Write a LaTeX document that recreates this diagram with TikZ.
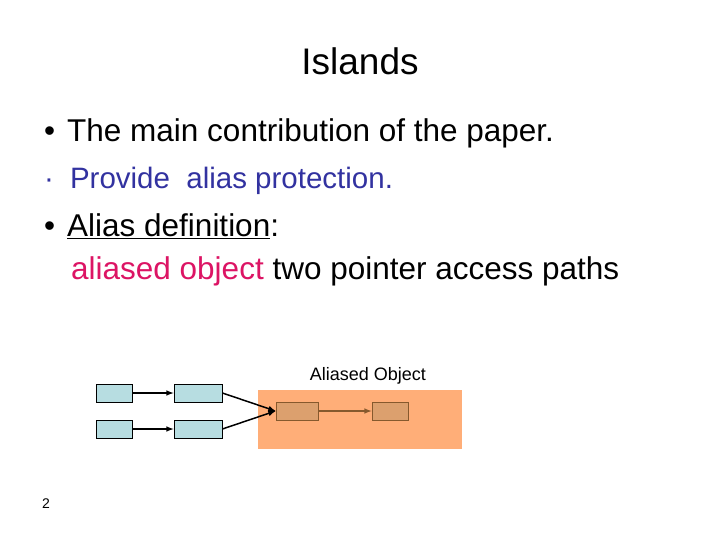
\documentclass[tikz,border=0pt]{standalone}
\usepackage{fontspec}
\setmainfont{Liberation Sans}
\begin{document}
\begin{tikzpicture}[x=1pt,y=-1pt,
 blue box/.style={draw=black,line width=0.8pt,fill=lightcyan,minimum width=36pt,minimum height=18pt,inner sep=0pt},
 big box/.style={blue box,minimum width=48pt},
 obj/.style={draw=brown!70!black,line width=0.8pt,fill=objfill,minimum height=18pt,inner sep=0pt},
 arr/.style={-latex,line width=1.5pt}]
\definecolor{lightcyan}{RGB}{183,221,225}
\definecolor{objfill}{RGB}{220,160,110}
\definecolor{areafill}{RGB}{255,174,120}
\definecolor{textblue}{RGB}{50,50,160}
\definecolor{pink}{RGB}{220,20,100}
\useasboundingbox (0,0) rectangle (720,540);
\node (title) at (360,61) {\fontsize{37}{42}\selectfont Islands};
\node[anchor=west,inner sep=0pt] (b1) at (44,133) {\fontsize{31.5}{36}\selectfont\textbullet\hspace{12pt}The main contribution of the paper.};
\node[anchor=west,text=textblue,inner sep=0pt] (b2) at (44,181) {\fontsize{29.5}{34}\selectfont\textperiodcentered\hspace{16pt}Provide\ \ alias protection.};
\node[anchor=west,inner sep=0pt] (b3) at (44,226) {\fontsize{31.5}{36}\selectfont\textbullet\hspace{12pt}\underline{Alias definition}:};
\node[anchor=west,inner sep=0pt] (b4) at (71,271) {\fontsize{31.5}{36}\selectfont\textcolor{pink}{aliased object} two pointer access paths};
\fill[areafill] (258,390) rectangle (462,449);
\node (lbl) at (368,376) {\fontsize{18}{21}\selectfont Aliased Object};
\node[blue box] (a1) at (114,393) {};
\node[blue box] (a2) at (114,429) {};
\node[big box] (c1) at (198,393) {};
\node[big box] (c2) at (198,429) {};
\node[obj,minimum width=42pt] (o1) at (297,411) {};
\node[obj,minimum width=36pt] (o2) at (390,411) {};
\draw[arr] (a1) -- (c1);
\draw[arr] (a2) -- (c2);
\draw[arr] (c1.east) -- (o1.west);
\draw[arr] (c2.east) -- (o1.west);
\draw[arr,draw=brown!70!black] (o1) -- (o2);
\node (num) at (46,504) {\fontsize{14}{16}\selectfont 2};
\end{tikzpicture}
\end{document}
